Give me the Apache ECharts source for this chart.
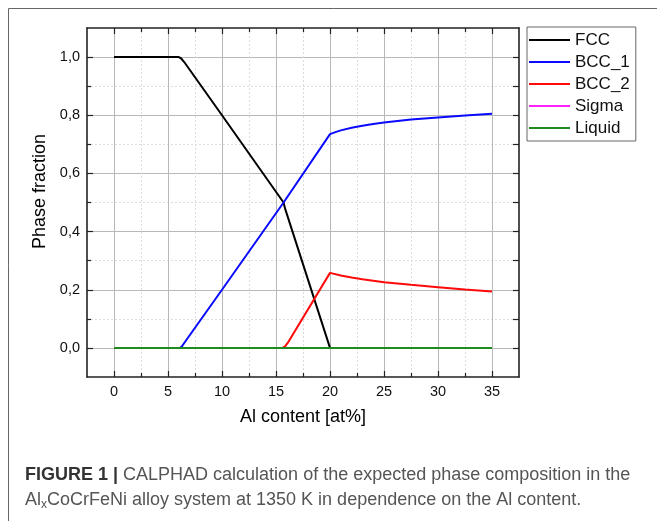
<!DOCTYPE html>
<html>
<head>
<meta charset="utf-8">
<script src="https://cdn.jsdelivr.net/npm/echarts@6/dist/echarts.min.js"></script>
<style>
    html, body { margin: 0; padding: 0; background: #fff; }
    #chart { width: 657px; height: 521px; }
</style>
</head>
<body>
<div id="chart"></div>
<script>
    // tick positions
    const alMajorTicks = [0, 5, 10, 15, 20, 25, 30, 35];
    const alMinorTicks = [2.5, 7.5, 12.5, 17.5, 22.5, 27.5, 32.5];
    const fracMajorTicks = [0, 0.2, 0.4, 0.6, 0.8, 1.0];
    const fracMinorTicks = [0.1, 0.3, 0.5, 0.7, 0.9];
    const fracRightTicks = [0, 0.1, 0.2, 0.3, 0.4, 0.5, 0.6, 0.7, 0.8, 0.9, 1.0];

    // phase fractions, [Al content, fraction]
    const phaseNames = ['FCC', 'BCC_1', 'BCC_2', 'Sigma', 'Liquid'];
    const phaseColors = ['#000000', '#0a0aff', '#ff0a0a', '#ff22ff', '#1f8a1f'];
    const fcc = [[0, 1.0], [6.0, 1.0], [6.2, 0.996], [6.5, 0.983], [10, 0.80], [15.7, 0.50],
        [15.85, 0.478], [20, 0.0], [35, 0.0]];
    const bcc1 = [[0, 0], [6.1, 0], [6.3, 0.006], [6.6, 0.022], [10, 0.20], [15.7, 0.50], [20, 0.735],
        [20.5, 0.742], [21, 0.748], [22, 0.757], [23, 0.764], [24, 0.770], [25, 0.775],
        [27.5, 0.785], [30, 0.792], [32.5, 0.799], [35, 0.805]];
    const bcc2 = [[0, 0], [15.6, 0], [15.8, 0.004], [16.1, 0.018], [20, 0.258], [21, 0.249],
        [22, 0.242], [23, 0.236], [25, 0.226], [27.5, 0.217], [30, 0.209], [32.5, 0.201], [35, 0.194]];
    const sigma = [[0, 0], [35, 0]];
    const liquid = [[0, 0], [35, 0]];
    const phaseData = [fcc, bcc1, bcc2, sigma, liquid];

    const labelFont = 'Liberation Sans, Arial, sans-serif';

    function xAxisOf(pos, ticks, len, opts) {
        return Object.assign({
            type: 'value', gridIndex: 0, position: pos, min: -2.5, max: 37.5,
            axisLine: { show: false, onZero: false },
            axisTick: { show: true, inside: true, length: len, customValues: ticks,
                lineStyle: { color: '#222', width: 1.2 } },
            axisLabel: { show: false },
            splitLine: { show: false }
        }, opts || {});
    }
    function yAxisOf(pos, ticks, len, opts) {
        return Object.assign({
            type: 'value', gridIndex: 0, position: pos, min: -0.1, max: 1.1,
            axisLine: { show: false, onZero: false },
            axisTick: { show: true, inside: true, length: len, customValues: ticks,
                lineStyle: { color: '#222', width: 1.2 } },
            axisLabel: { show: false },
            splitLine: { show: false }
        }, opts || {});
    }

    const myChart = echarts.init(document.getElementById('chart'), null, { renderer: 'canvas' });
    const option = {
        animation: false,
        backgroundColor: '#fff',
        grid: { left: 87, top: 28, width: 432, height: 349, containLabel: false },
        xAxis: [
            xAxisOf('bottom', alMajorTicks, 6, {
                axisLine: { show: true, onZero: false, lineStyle: { color: '#222', width: 1.6 } },
                axisLabel: { show: true, customValues: alMajorTicks, margin: 7,
                    fontSize: 14.5, fontFamily: labelFont, color: '#111' },
                splitLine: { show: true, lineStyle: { color: '#b8b8b8', width: 1 } },
                name: 'Al content [at%]', nameLocation: 'middle', nameGap: 31,
                nameTextStyle: { fontSize: 18, fontFamily: labelFont, color: '#000' }
            }),
            xAxisOf('bottom', alMinorTicks, 4, {
                splitLine: { show: true, lineStyle: { color: '#dcdcdc', width: 1, type: [2, 2] } }
            }),
            xAxisOf('top', alMajorTicks, 6, {
                axisLine: { show: true, onZero: false, lineStyle: { color: '#222', width: 1.6 } }
            }),
            xAxisOf('top', alMinorTicks, 4)
        ],
        yAxis: [
            yAxisOf('left', fracMajorTicks, 6, {
                axisLine: { show: true, onZero: false, lineStyle: { color: '#222', width: 1.6 } },
                axisLabel: { show: true, customValues: fracMajorTicks, margin: 7,
                    fontSize: 14.5, fontFamily: labelFont, color: '#111',
                    formatter: function (v) { return v.toFixed(1).replace('.', ','); } },
                splitLine: { show: true, lineStyle: { color: '#b8b8b8', width: 1 } },
                name: 'Phase fraction', nameLocation: 'middle', nameGap: 37, nameRotate: 90,
                nameTextStyle: { fontSize: 18, fontFamily: labelFont, color: '#000', padding: [0, 0, 0, 22] }
            }),
            yAxisOf('left', fracMinorTicks, 4, {
                splitLine: { show: true, lineStyle: { color: '#dcdcdc', width: 1, type: [2, 2] } }
            }),
            yAxisOf('right', fracRightTicks, 6, {
                axisLine: { show: true, onZero: false, lineStyle: { color: '#222', width: 1.6 } }
            })
        ],
        legend: {
            orient: 'vertical', left: 527, top: 27,
            padding: [2, 6, 2, 2], itemGap: 0, itemWidth: 41, itemHeight: 2, icon: 'rect',
            borderColor: '#666', borderWidth: 1, backgroundColor: '#fff',
            textStyle: { fontSize: 17, lineHeight: 22, fontFamily: labelFont, color: '#111' },
            data: phaseNames
        },
        series: phaseNames.map(function (name, i) {
            return {
                name: name, type: 'line', xAxisIndex: 0, yAxisIndex: 0,
                data: phaseData[i], showSymbol: false, symbol: 'none', smooth: false,
                lineStyle: { color: phaseColors[i], width: 2 },
                itemStyle: { color: phaseColors[i] },
                silent: true
            };
        }),
        graphic: [
            {
                type: 'rect', silent: true, z: -1,
                shape: { x: 8.5, y: 8.5, width: 800, height: 800 },
                style: { fill: 'none', stroke: '#666', lineWidth: 1 }
            },
            {
                type: 'text', left: 25, top: 462, silent: true,
                style: {
                    text: '{b|FIGURE 1 |} CALPHAD calculation of the expected phase composition in the\n' +
                        'Al{s|x}CoCrFeNi alloy system at 1350 K in dependence on the Al content.',
                    font: '18px ' + labelFont, fill: '#555', lineHeight: 25.5,
                    rich: {
                        b: { fontWeight: 'bold', fill: '#333', fontSize: 18, fontFamily: labelFont, lineHeight: 25.5 },
                        s: { fontSize: 12, fontFamily: labelFont, fill: '#555', padding: [9, 0, 0, 0], lineHeight: 12 }
                    }
                }
            }
        ]
    };
    myChart.setOption(option);
</script>
</body>
</html>
